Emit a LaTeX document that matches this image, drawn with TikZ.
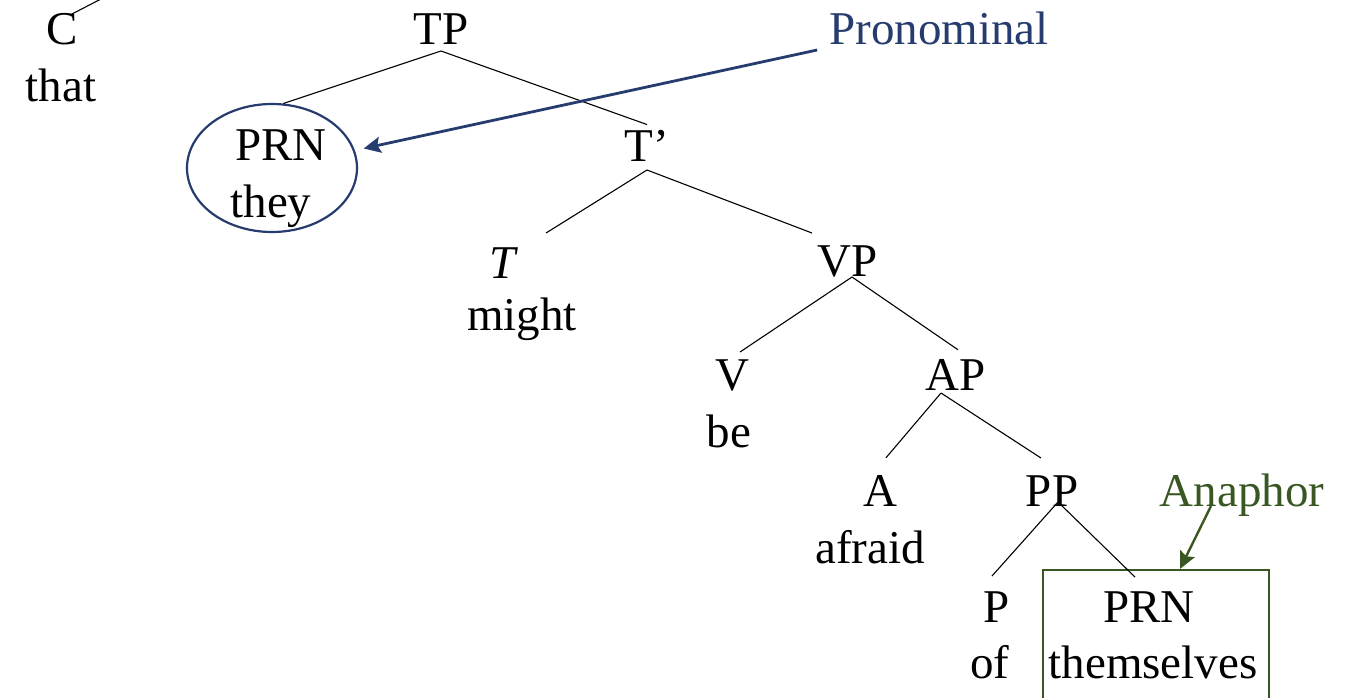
\documentclass[tikz,border=0pt]{standalone}
\usepackage{fontspec}
\setmainfont{Liberation Serif}
\usetikzlibrary{arrows.meta,shapes.geometric}
\definecolor{pblue}{RGB}{38,60,110}
\definecolor{agreen}{RGB}{56,87,35}
\begin{document}
\begin{tikzpicture}[x=1pt,y=-1pt,
  every node/.style={font=\fontsize{47}{56}\selectfont},
  lbl/.style={inner sep=0pt, anchor=base},
  edge/.style={line width=1.1pt, black},
  pointer/.style={line width=2.8pt, -{Stealth[length=17pt,width=16pt,inset=3pt]}}]
\useasboundingbox (0,0) rectangle (1345,698);
\clip (0,0) rectangle (1345,698);
% labels
\node[lbl] (C) at (62,45) {C};
\node[lbl] (that) at (61,102) {that};
\node[lbl] (TP) at (441,45) {TP};
\node[ellipse, draw=pblue, line width=2.2pt, minimum width=170pt, minimum height=128pt, inner sep=0pt] (PRNe) at (272,168) {};
\node[lbl] (PRN) at (281,161) {PRN};
\node[lbl] (they) at (271,218) {they};
\node[lbl] (Tb) at (647,162) {T’};
\node[lbl] (T) at (503,278) {\itshape T};
\node[lbl] (might) at (522,330) {might};
\node[lbl] (VP) at (848,276) {VP};
\node[lbl] (V) at (732,390) {V};
\node[lbl] (be) at (729,447) {be};
\node[lbl] (AP) at (956,390) {AP};
\node[lbl] (A) at (880,506) {A};
\node[lbl] (afraid) at (870,563) {afraid};
\node[lbl] (PP) at (1052,506) {PP};
\node[lbl] (P) at (997,622) {P};
\node[lbl] (of) at (990,678) {of};
\node[draw=agreen, line width=2.2pt, minimum width=226pt, minimum height=150pt, inner sep=0pt] (box) at (1156,645) {};
\node[lbl] (PRNb) at (1149,622) {PRN};
\node[lbl] (them) at (1153,678) {themselves};
\node[lbl, text=pblue] (Pron) at (939,45) {Pronominal};
\node[lbl, text=agreen] (Ana) at (1242,506) {Anaphor};
\coordinate (CP) at (130,-16);
% tree edges
\draw[edge] ([xshift=10pt,yshift=31pt]C.base) -- (CP);
\draw[edge] ([yshift=-6pt]TP.base) -- (PRNe.80);
\draw[edge] ([yshift=-6pt]TP.base) -- ([yshift=6pt]Tb.north);
\draw[edge] ([yshift=-8pt]Tb.base) -- ([xshift=43pt,yshift=14pt]T.north);
\draw[edge] ([yshift=-8pt]Tb.base) -- ([xshift=-36pt,yshift=12pt]VP.north);
\draw[edge] ([xshift=4pt,yshift=-1pt]VP.base) -- ([xshift=8pt,yshift=7pt]V.north);
\draw[edge] ([xshift=4pt,yshift=-1pt]VP.base) -- ([xshift=2pt,yshift=9pt]AP.north);
\draw[edge] ([xshift=-15pt,yshift=-3pt]AP.base) -- ([xshift=6pt,yshift=17pt]A.north);
\draw[edge] ([xshift=-15pt,yshift=-3pt]AP.base) -- ([xshift=-11pt,yshift=17pt]PP.north);
\draw[edge] ([xshift=6pt,yshift=4pt]PP.base) -- ([xshift=-5pt,yshift=15pt]P.north);
\draw[edge] ([xshift=6pt,yshift=4pt]PP.base) -- ([xshift=-14pt,yshift=14pt]PRNb.north);
% pointers
\draw[pointer, pblue, shorten >=9pt] ([xshift=-12pt,yshift=-5pt]Pron.base west) -- (PRNe.12);
\draw[pointer, agreen, line width=2.4pt] ([xshift=-31pt]Ana.base) -- ([xshift=24pt]box.north);
\end{tikzpicture}
\end{document}
